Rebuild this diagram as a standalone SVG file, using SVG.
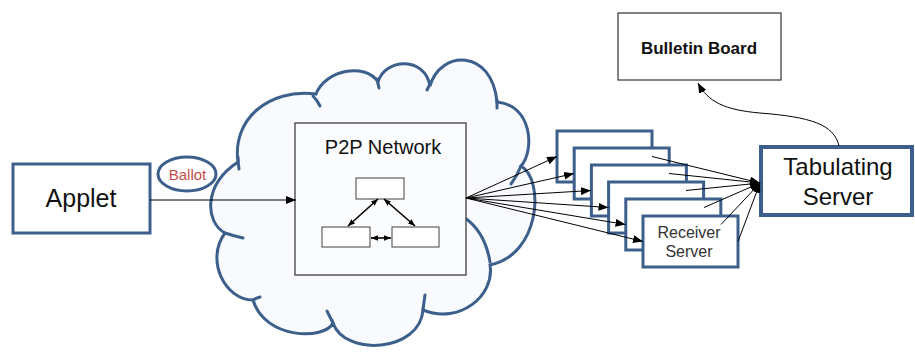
<svg xmlns="http://www.w3.org/2000/svg" width="915" height="352" viewBox="0 0 915 352">
<defs>
<marker id="ah" viewBox="0 0 10 8" refX="10" refY="4" markerWidth="10" markerHeight="8" markerUnits="userSpaceOnUse" orient="auto-start-reverse">
<path d="M0,0 L10,4 L0,8 Z" fill="#000"/>
</marker>
<marker id="ahs" viewBox="0 0 10 8" refX="10" refY="4" markerWidth="7" markerHeight="7" markerUnits="userSpaceOnUse" orient="auto-start-reverse">
<path d="M0,0 L10,4 L0,8 Z" fill="#000"/>
</marker>
</defs>
<style>
.blue{fill:#fff;stroke:#3d5f8c;stroke-width:3}
.gray{fill:#fafcfe;stroke:#404040;stroke-width:1.3}
.sm{fill:#fff;stroke:#404040;stroke-width:1}
.t{font-family:"Liberation Sans",Arial,sans-serif;fill:#111;text-anchor:middle}
.c{fill:none;stroke:#000;stroke-width:1}
.ci{fill:none;stroke:#000;stroke-width:1.6}
.hook{fill:none;stroke:#3d5f8c;stroke-width:3;stroke-linecap:round}
</style>
<rect width="915" height="352" fill="#fff"/>
<g id="cloud">
<path d="M225,233 C205,222 203,185 238,162 C232,120 268,88 316,94 C325,70 365,62 378,82 C385,58 425,56 430,86 C440,50 492,48 497,102 C532,105 535,150 521,166 C545,180 540,255 490,265 C495,295 460,325 423,310 C420,352 345,357 333,323 C325,340 265,340 253,300 C225,300 205,260 225,233 Z" fill="#f8fafd" stroke="#3d5f8c" stroke-width="3"/>
<path class="hook" d="M238,157 Q238,163 239,169"/>
<path class="hook" d="M313,96 Q317,100 320,106"/>
<path class="hook" d="M377,79 Q378,84 379,88"/>
<path class="hook" d="M431,82 Q429,86 427,90"/>
<path class="hook" d="M497,100 L497,108"/>
<path class="hook" d="M521,166 Q517,176 511,184"/>
<path class="hook" d="M465,218 Q485,232 490,262"/>
<path class="hook" d="M423,310 Q424,302 425,295"/>
<path class="hook" d="M333,323 Q330,317 327,311"/>
<path class="hook" d="M253,300 Q256,298 260,297"/>
<path class="hook" d="M225,233 Q234,236 243,238"/>
</g>
<g id="applet">
<rect class="blue" x="13" y="164" width="137" height="69"/>
<text class="t" x="81" y="207" font-size="25">Applet</text>
</g>
<g id="ballot">
<ellipse cx="187" cy="174" rx="29" ry="17" fill="#fff" stroke="#3d5f8c" stroke-width="3"/>
<text class="t" x="187.5" y="180" font-size="15" style="fill:#c0504d">Ballot</text>
</g>
<g id="p2p">
<rect class="gray" x="295" y="123" width="171" height="152"/>
<text class="t" x="383" y="154" font-size="20">P2P Network</text>
<rect class="sm" x="356" y="178" width="48" height="21"/>
<rect class="sm" x="322" y="227" width="48" height="20"/>
<rect class="sm" x="392" y="227" width="47" height="20"/>
</g>
<g id="receivers">
<rect class="blue" x="557" y="131" width="95" height="51"/>
<rect class="blue" x="574.2" y="148" width="95" height="51"/>
<rect class="blue" x="591.4" y="165" width="95" height="51"/>
<rect class="blue" x="608.6" y="182" width="95" height="51"/>
<rect class="blue" x="625.8" y="199" width="95" height="51"/>
<rect class="blue" x="643" y="216" width="95" height="51"/>
<text class="t" x="689" y="238" font-size="16" style="fill:#333">Receiver</text>
<text class="t" x="689" y="257" font-size="16" style="fill:#333">Server</text>
</g>
<g id="tabulating">
<rect x="761" y="147" width="151" height="68" fill="#fff" stroke="#3d5f8c" stroke-width="4"/>
<text class="t" x="838" y="175" font-size="24">Tabulating</text>
<text class="t" x="838" y="205" font-size="24">Server</text>
</g>
<g id="bulletin">
<rect x="618" y="13" width="163" height="67" fill="#fff" stroke="#333" stroke-width="1.2"/>
<text class="t" x="699" y="54" font-size="17" font-weight="bold">Bulletin Board</text>
</g>
<g id="connectors">
<line class="c" x1="150" y1="200" x2="296" y2="200" marker-end="url(#ah)"/>
<line class="ci" x1="378" y1="199" x2="348" y2="226" marker-start="url(#ahs)" marker-end="url(#ahs)"/>
<line class="ci" x1="384" y1="199" x2="415" y2="226" marker-start="url(#ahs)" marker-end="url(#ahs)"/>
<line class="ci" x1="371" y1="238" x2="391" y2="238" marker-start="url(#ahs)" marker-end="url(#ahs)"/>
<line class="c" x1="466" y1="198" x2="557" y2="156.5" marker-end="url(#ah)"/>
<line class="c" x1="466" y1="198" x2="574" y2="173.5" marker-end="url(#ah)"/>
<line class="c" x1="466" y1="198" x2="591" y2="190.5" marker-end="url(#ah)"/>
<line class="c" x1="466" y1="198" x2="608.5" y2="207.5" marker-end="url(#ah)"/>
<line class="c" x1="466" y1="198" x2="625.5" y2="224.5" marker-end="url(#ah)"/>
<line class="c" x1="466" y1="198" x2="643" y2="241.5" marker-end="url(#ah)"/>
<line class="c" x1="652" y1="156.5" x2="760" y2="183" marker-end="url(#ah)"/>
<line class="c" x1="669" y1="173.5" x2="760" y2="183" marker-end="url(#ah)"/>
<line class="c" x1="686" y1="190.5" x2="760" y2="183" marker-end="url(#ah)"/>
<line class="c" x1="704" y1="207.5" x2="760" y2="183" marker-end="url(#ah)"/>
<line class="c" x1="721" y1="224.5" x2="760" y2="183" marker-end="url(#ah)"/>
<line class="c" x1="738" y1="241.5" x2="760" y2="183" marker-end="url(#ah)"/>
<path class="c" d="M839,146 C834,124 810,117 760,113 C725,110 708,102 698,83" marker-end="url(#ah)"/>
</g>
</svg>
